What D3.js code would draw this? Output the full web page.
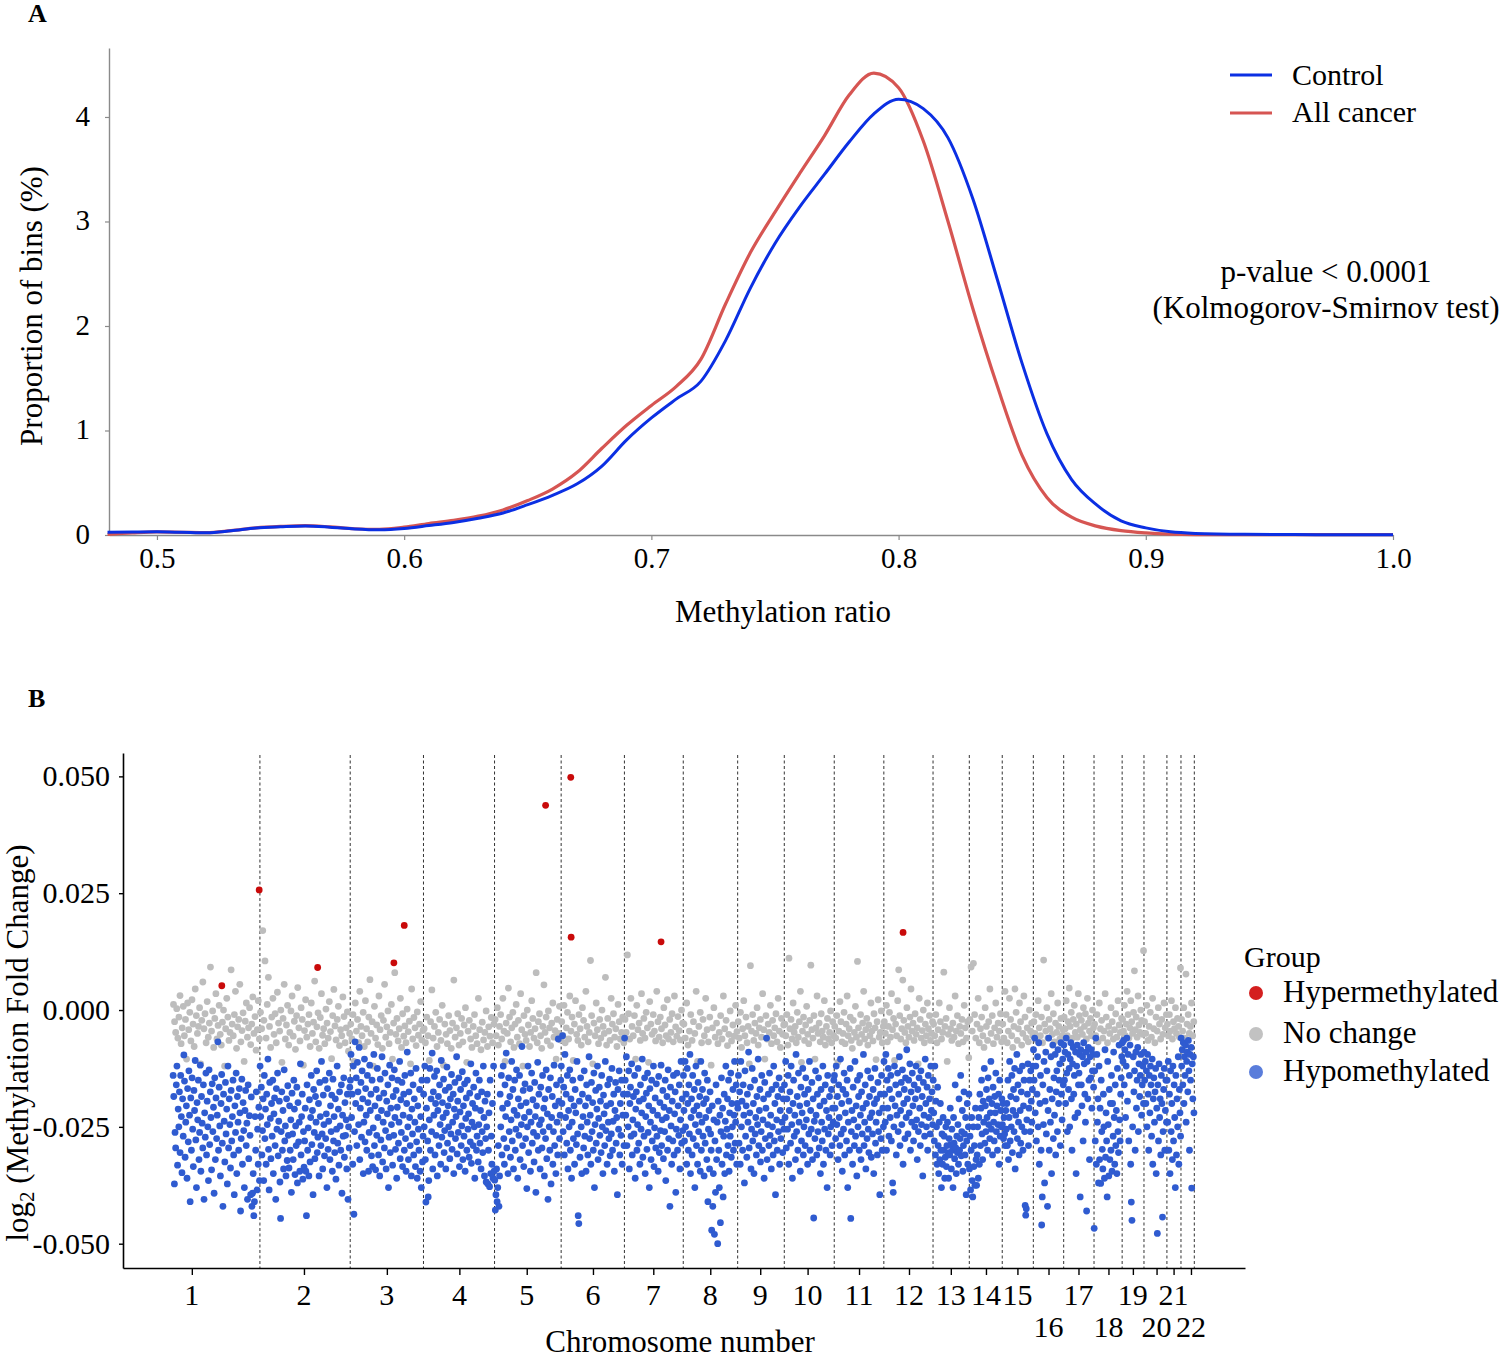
<!DOCTYPE html>
<html><head><meta charset="utf-8">
<script src="https://cdn.jsdelivr.net/npm/d3@7"></script>
<style>
body{margin:0;background:#fff}
svg{display:block}
text{font-family:"Liberation Serif","Times New Roman",serif;fill:#000}
</style>
</head><body>
<svg id="c" width="1500" height="1358"></svg>
<script>
// ---------- Panel A data: density of methylation ratio (%) ----------
const densX = [0.48,0.49,0.50,0.51,0.52,0.53,0.54,0.55,0.56,0.57,0.58,0.59,0.60,0.61,0.62,0.63,0.64,0.65,0.66,0.67,0.68,0.69,0.70,0.71,0.72,0.73,0.74,0.75,0.76,0.77,0.78,0.79,0.80,0.81,0.82,0.83,0.84,0.85,0.86,0.87,0.88,0.89,0.90,0.91,0.92,0.94,0.96,0.98,1.00];
const controlY = [0.026,0.028,0.030,0.026,0.021,0.040,0.066,0.078,0.086,0.075,0.058,0.050,0.062,0.090,0.120,0.160,0.210,0.290,0.380,0.490,0.660,0.910,1.120,1.300,1.470,1.860,2.360,2.790,3.140,3.450,3.760,4.030,4.170,4.080,3.800,3.220,2.440,1.640,0.970,0.530,0.290,0.135,0.068,0.030,0.015,0.006,0.004,0.003,0.003];
const cancerY  = [0.005,0.020,0.030,0.026,0.022,0.042,0.068,0.082,0.090,0.078,0.060,0.055,0.075,0.110,0.140,0.180,0.240,0.330,0.440,0.600,0.830,1.050,1.240,1.420,1.680,2.210,2.700,3.090,3.460,3.820,4.210,4.420,4.280,3.770,3.000,2.170,1.420,0.760,0.360,0.170,0.085,0.042,0.020,0.008,0.004,0.003,0.003,0.003,0.003];
const densSeries = ["Control","All cancer"];
const xTicksA = [0.5,0.6,0.7,0.8,0.9,1.0];
const yTicksA = [0,1,2,3,4];

// ---------- Panel B data ----------
const chromosomes = ["1","2","3","4","5","6","7","8","9","10","11","12","13","14","15","16","17","18","19","20","21","22"];
// cumulative genomic coordinate (Mb) of the first/last bin, and label position
const chrStart = [135,370,614,812,1004,1184,1355,1514,1661,1787,1922,2056,2189,2287,2376,2460,2542,2624,2700,2759,2821,2859];
const chrEnd   = [370,614,812,1004,1184,1355,1514,1661,1787,1922,2056,2189,2287,2376,2460,2542,2624,2700,2759,2821,2859,2895];
const chrTick  = [186,489,713,909,1091,1270,1433,1587,1722,1850,1989,2124,2237,2332,2417,2501,2582,2663,2729,2793,2839,2886];
const genomeEnd = 3032;
const yTicksB = [-0.05,-0.025,0,0.025,0.05];
const groups = ["Hypermethylated","No change","Hypomethylated"];

// Hypermethylated bins: position (Mb, cumulative) and log2 fold change (x1e-4)
const hyperPos = [267,368,526,732,760,1142,1210,1211,1454,2108];
const hyperVal = [52,257,91,101,181,438,498,156,146,166];

// No-change bins (x1e-4), per chromosome in positional order
const g1=[12,-25,-48,3,-60,-15,31,-72,-38,8,-55,-20,-105,15,-42,-5,-66,22,-30,-78,45,-12,-50,-35,5,-115,-22,60,-40,-8,-70,18,-58,-28,92,-45,-2,-80,-18,35,-62,-33,10,-52,-75,-26,0,-120,-40,25,-15,-65,-48,86,-30,-55,-10,40,-82,-36,-20,55,-68,-44,-6,-110,-24,15,-58,-38,5,-74,-30,28,-50,-14,-86,-42,20,-62];
const g2=[-5,-40,170,-22,105,-60,12,70,-35,-80,-15,25,-52,-8,-70,38,-28,-45,0,-112,-18,55,-62,-32,10,-75,-48,-2,30,-56,-24,-84,-12,48,-38,-66,5,-20,-118,-44,22,-58,-30,-10,-78,15,-50,-26,62,-68,-36,-6,-82,-16,35,-54,-40,-72,2,-28,-60,18,-46,-104,-12,44,-34,-64,-20,8,-76,-42,-55,28,-14,-70,-38,-4,-88,-50];
const g3=[-30,-62,-10,-110,15,-45,-20,-70,40,-35,-55,-5,-78,20,-40,-68,-15,65,-50,-25,-120,8,-60,-32,-74,30,-42,-12,-82,-22,55,-58,-36,-2,-72,-48,12,-105,-28,80,-52,-18,-66,-40,25,-80,-8,-56,-34,-70,2,-46,-24,-115,45,-62,-16,-38,-76,-4,-54,-30,18,-64,-44];
const g4=[-40,-70,-15,-55,-108,-25,43,-60,-35,-5,-78,-48,-20,-65,10,-118,-30,-52,-72,-12,-44,-82,-28,64,-58,-38,-8,-75,-50,-18,-68,-32,5,-112,-45,-22,-62,-80,-35,-10,-55,-72,25,-42,-85,-26,-64,-48,-2,-78,-36,-56,-16,-70,-30];
const g5=[-20,-55,5,-75,-35,-10,-62,25,-45,-110,-28,-50,47,-15,-68,-38,-5,-80,-30,12,-58,-22,-72,35,-42,-120,-12,-52,-65,0,-32,-78,-48,20,-18,-60,-40,80,-70,-25,-8,-55,-82,-35,54,-48,-15,-66,-2,-38,-76,-28,15,-58,-44,-105,-20,-50,8,-64];
const g6=[-25,-55,10,-70,-38,-5,-62,30,-45,-15,-108,-30,20,-52,-65,-10,-40,-75,5,-22,-58,40,-35,-68,-48,106,-12,-115,-28,-55,15,-42,-72,-20,-60,0,-35,-50,70,-75,-18,-45,-65,25,-30,-8,-58,-40,-78,12,-25,-62,-48,-15,-70];
const g7=[-20,-48,118,-8,-62,25,-35,-55,-12,-105,10,-42,-28,-65,35,-50,-18,-60,-5,-38,-112,18,-30,-52,-10,-45,-66,40,-25,-58,-15,-40,-70,5,-32,-55,22,-62,-20,-48,-8,-68,30,-36,-56,-14,-44,-64,0,-28];
const g8=[-30,-60,15,-75,-45,-10,-65,-25,-50,40,-110,-35,-5,-70,-20,-55,25,-42,-68,-15,-118,-38,5,-58,-28,-72,-48,-12,-62,30,-40,-22,-76,-52,-2,-66,-32,-56,10,-46];
const g9=[-25,-60,-5,-80,-40,20,-55,-15,-70,-35,-115,95,-45,-10,-65,-28,-50,5,-75,-38,-20,-58,35,-42,-105,-12,-62,-30,-48,10,-72,-22,-55,-38,-8,-68,25,-45,-80,-18,-52,-32];
const g10=[-30,-55,-10,-75,111,-40,-20,-62,15,-48,-35,-70,-5,-58,-25,40,-112,-45,-15,-65,-32,8,-52,-72,-22,96,-42,-60,-12,-105,-38,30,-50,-28,-68,-8,-45,-58,20,-75,-35,-18,-62,-48,-2,-70,-25,-55];
const g11=[-35,-60,-12,-112,-45,18,-25,-68,-50,-5,-72,-30,30,-55,-40,-15,-65,-82,-22,-48,8,-58,104,-38,-70,-10,-52,-28,40,-62,-42,-18,-75,-32,-55,15,-45,-66,-8,-38,-106,-25,22,-58,-48,-2,-70,-35];
const g12=[-25,-50,10,-68,-35,-5,-58,35,-42,-18,-108,-30,-55,20,86,-12,-62,-40,64,-22,-48,-70,5,-35,-58,-15,45,-45,-28,-65,-8,-52,-38,-115,25,-20,-60,-44,0,-70,-30,-55,15,-40,-12,-65,-50,-25];
const g13=[-30,-55,-10,-70,-42,15,-25,-62,-48,81,-35,-18,-110,-52,5,-40,-65,-28,-58,30,-45,-12,-72,-35,-50,-20,-68,10,-38,-60,-25,-102];
const g14=[-20,92,-45,100,-10,-60,-30,25,-70,-40,-15,-55,-80,5,-35,-65,-25,45,-50,-12,-72,-38,15,-58,-28,-45,-8,-68];
const g15=[-30,-60,40,-10,-70,-45,25,-20,-55,-80,-35,45,-5,-65,-40,15,-25,-75,-50,30,-15,-60,-38,-68,0,-45,-28,-55];
const g16=[-25,-50,-10,-65,20,-38,-55,-15,-70,107,-30,-45,5,-60,-20,-40,35,-52,-8,-68,-28,-48,15,-35,-62,-18,-55,-42];
const g17=[-15,-40,20,-55,-25,47,-35,-5,-60,-20,10,-48,-30,-58,35,-12,-42,-22,-52,5,-35,-8,-62,25,-28,-45,-18,-55,0,-38];
const g18=[-30,-55,-10,-68,15,-40,-22,-60,-45,35,-15,-70,-35,-50,5,-25,-62,-42,-8,-58,20,-32,-48,-18];
const g19=[-20,-45,10,-55,-30,40,-10,-60,-38,20,-25,-50,-5,84,-42,-15,-58,30,-32,-48,0,-22,-52,127];
const g20=[-25,-50,10,-65,-35,-5,-58,25,-40,-70,-15,-45,5,-30,-62,-20,-52,15,-38,-10];
const g21=[-30,-55,-10,-45,20,-62,-25,-40,5,-50,-18,-35,-58,90];
const g22=[-20,-45,5,-60,77,-30,-10,-50,-35,15,-55,-25];

// Hypomethylated bins (x1e-4), per chromosome in positional order
const b1=[-140,-185,-372,-262,-295,-160,-120,-332,-212,-250,-175,-305,-140,-228,-348,-190,-270,-96,-152,-315,-240,-205,-360,-168,-282,-130,-225,-410,-188,-300,-145,-255,-335,-172,-215,-108,-278,-380,-198,-235,-150,-320,-262,-118,-345,-185,-242,-295,-160,-405,-220,-272,-135,-310,-195,-250,-365,-128,-288,-175,-230,-342,-158,-260,-208,-392,-145,-320,-188,-275,-225,-68,-300,-165,-248,-355,-200,-138,-285,-420,-180,-238,-325,-155,-265,-212,-372,-120,-295,-190,-245,-338,-172,-280,-228,-150,-310,-395,-205,-262,-135,-350,-185,-240,-300,-168,-220,-430,-275,-148,-330,-198,-258,-380,-215,-172,-290,-242,-405,-160,-318,-226,-268,-395,-186,-420,-392,-350,-440,-410,-228,-300,-175,-385,-255,-330,-208,-365];
const b2=[-120,-228,-165,-310,-258,-190,-365,-140,-275,-212,-330,-180,-245,-105,-298,-385,-155,-232,-318,-200,-270,-150,-350,-222,-188,-290,-405,-168,-255,-135,-312,-238,-195,-368,-446,-260,-175,-300,-215,-340,-128,-280,-248,-355,-190,-322,-162,-268,-338,-205,-300,-235,-390,-178,-265,-320,-150,-212,-352,-248,-290,-165,-370,-198,-282,-240,-345,-115,-310,-228,-180,-362,-260,-336,-280,-210,-345,-440,-160,-300,-252,-355,-192,-325,-230,-140,-288,-215,-395,-170,-262,-318,-185,-240,-130,-305,-272,-200,-355,-155,-228,-290,-110,-265,-340,-182,-245,-312,-150,-275,-222,-380,-168,-298,-238,-135,-320,-205,-260,-182,-345,-148,-280,-228,-305,-190,-362,-255,-120,-285,-212,-332,-175,-248,-300,-160,-392,-225,-270,-145,-315,-198,-268,-235,-340,-180,-405,-250,-295,-165];
const b3=[-150,-95,-230,-180,-330,-120,-437,-260,-68,-200,-145,-290,-112,-175,-245,-80,-320,-210,-155,-272,-130,-190,-350,-240,-105,-282,-168,-225,-300,-140,-198,-345,-262,-118,-215,-180,-312,-150,-335,-252,-95,-290,-205,-342,-170,-268,-125,-230,-310,-188,-355,-148,-278,-215,-100,-325,-240,-178,-295,-135,-258,-340,-195,-222,-160,-380,-272,-118,-305,-210,-245,-145,-332,-185,-268,-128,-230,-298,-172,-360,-208,-150,-285,-240,-110,-318,-192,-262,-155,-335,-225,-180,-300,-140,-275,-345,-200,-90,-250,-320,-175,-230,-290,-135,-355,-212,-265,-160,-310,-190,-240,-335,-125,-282,-360,-205,-255,-300,-170,-345,-228,-380,-150,-325,-270];
const b4=[-180,-250,-120,-320,-411,-210,-150,-280,-400,-365,-235,-125,-300,-190,-260,-92,-340,-175,-225,-142,-310,-200,-268,-130,-355,-215,-185,-290,-160,-245,-330,-108,-272,-198,-230,-148,-305,-258,-172,-340,-220,-122,-285,-205,-250,-165,-318,-190,-265,-138,-298,-240,-180,-350,-212,-155,-275,-228,-100,-308,-195,-262,-145,-335,-218,-170,-290,-248,-132,-320,-205,-270,-158,-345,-232,-188,-300,-150,-255,-222,-315,-178,-282,-115,-328,-240,-200,-290,-165,-250,-360,-210,-135,-300,-270,-185,-325,-245,-150,-285,-215,-340,-175,-260,-305,-120,-230,-355,-195,-275,-368,-250,-180,-372,-300,-220,-378,-150,-350,-270,-330,-200,-360,-120,-345];
const b5=[-364,-428,-395,-340,-410,-380,-290,-420,-355,-180,-250,-140,-310,-210,-120,-275,-330,-160,-228,-92,-295,-200,-350,-145,-260,-185,-315,-235,-110,-280,-170,-340,-215,-150,-300,-255,-128,-225,-360,-190,-268,-140,-320,-205,-245,-78,-290,-172,-335,-230,-158,-275,-198,-382,-250,-120,-305,-218,-168,-345,-240,-135,-285,-192,-262,-325,-155,-228,-390,-205,-270,-112,-300,-180,-245,-340,-165,-235,-295,-140,-260,-210,-355,-190,-275,-128,-318,-222,-405,-170,-250,-300,-145,-372,-230,-185,-330,-260,-118,-290,-205,-350,-160,-240,-310,-62,-195,-275,-225,-150];
const b6=[-120,-200,-55,-260,-165,-310,-95,-230,-180,-285,-140,-340,-215,-250,-128,-300,-190,-360,-240,-150,-275,-205,-330,-170,-220,-288,-110,-265,-440,-457,-195,-315,-145,-250,-350,-180,-228,-295,-130,-270,-205,-345,-160,-240,-310,-188,-100,-275,-225,-330,-155,-260,-198,-300,-135,-380,-245,-172,-285,-212,-120,-320,-232,-165,-268,-195,-305,-140,-250,-350,-182,-222,-290,-110,-258,-205,-330,-160,-240,-275,-148,-312,-200,-265,-125,-300,-238,-180,-345,-215,-155,-285,-230,-395,-170,-255,-130,-310,-200,-268,-150,-330,-225,-180,-290];
const b7=[-60,-150,-225,-100,-290,-180,-250,-130,-340,-200,-165,-270,-115,-310,-235,-185,-265,-140,-360,-212,-175,-300,-245,-125,-285,-195,-330,-160,-255,-220,-105,-315,-190,-270,-145,-350,-228,-178,-298,-135,-262,-205,-380,-168,-240,-320,-150,-280,-215,-120,-335,-252,-188,-295,-158,-270,-225,-345,-142,-305,-198,-258,-118,-290,-235,-172,-318,-208,-260,-150,-365,-230,-185,-300,-128,-275,-215,-420,-165,-248,-330,-195,-280,-140,-310,-222,-175,-390,-255,-135,-300,-205,-268,-160,-340,-235,-110,-285,-190,-258];
const b8=[-140,-215,-280,-110,-250,-180,-330,-125,-200,-300,-160,-265,-95,-350,-230,-190,-310,-140,-275,-215,-170,-380,-245,-120,-290,-205,-330,-155,-260,-225,-185,-345,-110,-300,-240,-170,-270,-200,-355,-135,-285,-230,-190,-320,-150,-410,-255,-215,-340,-175,-265,-300,-471,-205,-420,-350,-235,-480,-280,-390,-160,-320,-240,-500,-195,-300,-380,-225,-455,-260,-145,-330,-210,-400,-270,-180,-350,-238,-120,-310,-255,-190,-290,-150,-345,-220,-270,-135,-315,-200,-250,-170,-300,-225,-110,-285,-240,-160,-330,-200];
const b9=[-210,-140,-285,-175,-330,-110,-250,-195,-300,-160,-225,-370,-130,-270,-205,-315,-180,-240,-90,-295,-220,-165,-340,-255,-125,-280,-200,-350,-150,-265,-230,-310,-185,-245,-105,-290,-215,-170,-325,-260,-140,-300,-235,-190,-360,-155,-275,-210,-60,-320,-245,-180,-290,-135,-268,-225,-340,-170,-250,-310,-120,-280,-200,-395,-160,-235,-300,-185,-260,-145,-330,-215,-275,-170,-240,-305,-190,-255];
const b10=[-160,-230,-110,-295,-190,-255,-140,-330,-215,-175,-285,-120,-245,-360,-200,-150,-270,-225,-320,-95,-260,-185,-300,-135,-240,-205,-345,-165,-280,-220,-125,-310,-250,-180,-290,-145,-235,-200,-330,-170,-265,-110,-300,-215,-255,-155,-320,-190,-445,-238,-275,-130,-225,-310,-180,-260,-145,-295,-205,-350,-170,-240,-280,-120,-330,-195,-255,-160,-300,-215,-380,-140,-265,-230,-185,-310,-250,-170,-290,-210,-240,-150];
const b11=[-140,-210,-275,-120,-245,-185,-320,-160,-230,-290,-105,-265,-200,-345,-170,-255,-135,-310,-220,-180,-280,-150,-380,-240,-195,-300,-125,-446,-260,-215,-330,-165,-235,-290,-110,-270,-205,-355,-150,-250,-185,-300,-140,-225,-320,-175,-265,-210,-95,-290,-240,-160,-340,-200,-275,-130,-255,-305,-185,-230,-145,-315,-220,-265,-170,-350,-200,-125,-285,-240,-190,-310,-155,-260,-220,-395,-180,-275,-140,-300,-210,-250];
const b12=[-110,-180,-240,-95,-300,-150,-210,-125,-270,-170,-230,-140,-280,-190,-370,-390,-250,-120,-205,-160,-310,-225,-135,-260,-180,-100,-290,-215,-155,-245,-128,-330,-200,-170,-275,-145,-230,-85,-190,-265,-150,-220,-115,-300,-175,-240,-135,-205,-280,-160,-250,-190,-120,-235,-320,-170,-260,-145,-210,-290,-130,-245,-185,-355,-155,-225,-270,-105,-200,-250,-165,-300,-140,-230,-190,-265,-120,-215,-175,-245];
const b13=[-150,-220,-280,-120,-310,-195,-250,-330,-165,-290,-350,-240,-320,-200,-300,-380,-265,-330,-230,-300,-270,-360,-315,-250,-335,-290,-240,-305,-360,-275,-310,-210,-288,-340,-255,-300,-380,-230,-285,-318,-160,-295,-350,-270,-305,-245,-330,-190,-300,-275,-140,-312,-260,-215,-345,-290,-175,-265,-310,-230,-395,-280,-200,-330,-250,-180];
const b14=[-340,-270,-385,-300,-230,-365,-400,-250,-335,-290,-375,-210,-320,-375,-310,-250,-360,-230,-330,-180,-290,-210,-150,-265,-320,-195,-240,-125,-285,-205,-260,-170,-230,-300,-145,-245,-190,-275,-220,-110,-255,-200,-310,-165,-240,-280,-185,-220,-135,-260,-205,-300,-245,-180,-330,-150,-270,-215,-250,-190];
const b15=[-245,-200,-275,-230,-265,-290,-215,-255,-200,-290,-150,-320,-230,-110,-280,-185,-250,-140,-305,-215,-170,-260,-125,-340,-225,-190,-95,-275,-160,-240,-310,-130,-215,-285,-175,-250,-120,-300,-205,-150,-260,-418,-439,-425,-235,-180,-115,-290,-210,-150,-260,-130,-195,-240,-170,-120];
const b16=[-85,-150,-60,-220,-120,-280,-180,-100,-250,-70,-330,-200,-140,-300,-460,-400,-160,-245,-110,-370,-195,-90,-265,-130,-420,-215,-60,-300,-170,-240,-100,-350,-190,-75,-275,-145,-225,-95,-310,-175,-130,-260,-85,-200,-150,-115,-290,-70,-180,-235,-105,-160];
const b17=[-75,-150,-90,-200,-60,-135,-260,-95,-170,-125,-250,-105,-70,-190,-300,-115,-80,-180,-140,-230,-90,-350,-120,-75,-220,-160,-135,-95,-400,-85,-160,-205,-100,-280,-70,-115,-180,-240,-90,-430,-110,-190,-80,-150,-320,-100,-145,-85,-210,-130,-95,-165];
const b18=[-467,-130,-280,-60,-330,-95,-240,-190,-370,-120,-320,-210,-371,-150,-260,-298,-340,-180,-250,-360,-85,-315,-220,-280,-400,-110,-245,-355,-170,-320,-200,-300,-140,-345,-200,-270,-90,-230,-330,-160,-290,-215,-350,-125,-260,-305,-75,-235,-280,-180,-145,-100];
const b19=[-70,-110,-65,-160,-85,-230,-120,-60,-195,-95,-280,-140,-75,-330,-411,-450,-250,-100,-175,-130,-300,-90,-210,-150,-80,-260,-115,-185,-140,-95,-225,-160,-120,-200];
const b20=[-90,-150,-110,-200,-130,-250,-95,-180,-300,-140,-220,-120,-160,-270,-105,-330,-190,-145,-240,-175,-125,-350,-210,-478,-160,-280,-115,-230,-190,-310,-140,-200,-443,-260,-170,-125,-300,-215,-150,-240];
const b21=[-150,-240,-110,-300,-180,-350,-130,-260,-200,-320,-120,-280,-160,-230,-380,-140,-310,-190,-250,-100,-330,-170,-220,-270];
const b22=[-60,-120,-85,-160,-70,-200,-100,-140,-75,-240,-110,-90,-175,-65,-130,-300,-95,-150,-80,-381,-115,-190,-100,-220];

const noChange = [g1,g2,g3,g4,g5,g6,g7,g8,g9,g10,g11,g12,g13,g14,g15,g16,g17,g18,g19,g20,g21,g22];
const hypo = [b1,b2,b3,b4,b5,b6,b7,b8,b9,b10,b11,b12,b13,b14,b15,b16,b17,b18,b19,b20,b21,b22];

// ---------- drawing ----------
const svg = d3.select("#c");
const FONT = '"Liberation Serif","Times New Roman",serif';
const colBlue = "#0b2fe3", colRed = "#d65552";

// Panel A
const xA = d3.scaleLinear().domain([0.4806, 1.0]).range([109, 1393]);
const yA = d3.scaleLinear().domain([0, 4.66]).range([535, 48]);
const gA = svg.append("g");

const axXA = gA.append("g").attr("transform", "translate(0,535)")
  .call(d3.axisBottom(xA).tickValues(xTicksA).tickFormat(d3.format(".1f")).tickSize(5).tickSizeOuter(0).tickPadding(7));
const axYA = gA.append("g").attr("transform", "translate(109,0)")
  .call(d3.axisLeft(yA).tickValues(yTicksA).tickFormat(d3.format("d")).tickSize(4).tickSizeOuter(0).tickPadding(15));
[axXA, axYA].forEach(a => {
  a.select(".domain").attr("stroke", "#8a8a8a").attr("stroke-width", 1.4);
  a.selectAll(".tick line").attr("stroke", "#8a8a8a").attr("stroke-width", 1.2);
  a.selectAll(".tick text").attr("font-family", FONT).attr("font-size", 29).attr("fill", "#000");
});
axYA.selectAll(".tick text").attr("dy", "0.28em");

const lineA = ys => d3.line().x((d, i) => xA(densX[i])).y(d => yA(d)).curve(d3.curveMonotoneX)(ys);
gA.append("path").attr("d", lineA(cancerY)).attr("fill", "none").attr("stroke", colRed).attr("stroke-width", 3.2);
gA.append("path").attr("d", lineA(controlY)).attr("fill", "none").attr("stroke", colBlue).attr("stroke-width", 3);

gA.append("text").attr("x", 28).attr("y", 22).attr("font-size", 26).attr("font-weight", "bold").text("A");
gA.append("text").attr("x", 783).attr("y", 622).attr("text-anchor", "middle").attr("font-size", 31).text("Methylation ratio");
gA.append("text").attr("transform", "translate(42,306) rotate(-90)").attr("text-anchor", "middle").attr("font-size", 31).text("Proportion of bins (%)");

// legend A
const legA = gA.append("g");
[colBlue, colRed].forEach((c, i) => {
  legA.append("line").attr("x1", 1230).attr("x2", 1272).attr("y1", 75 + i * 38).attr("y2", 75 + i * 38)
    .attr("stroke", c).attr("stroke-width", 3);
  legA.append("text").attr("x", 1292).attr("y", 85 + i * 37).attr("font-size", 30).text(densSeries[i]);
});
gA.append("text").attr("x", 1326).attr("y", 282).attr("text-anchor", "middle").attr("font-size", 31).text("p-value < 0.0001");
gA.append("text").attr("x", 1326).attr("y", 318).attr("text-anchor", "middle").attr("font-size", 31).text("(Kolmogorov-Smirnov test)");

// Panel B
const xB = d3.scaleLinear().domain([0, genomeEnd]).range([123, 1245]);
const yB = d3.scaleLinear().domain([-0.0552, 0.055]).range([1268, 753]);
const gB = svg.append("g");

gB.append("text").attr("x", 28).attr("y", 707).attr("font-size", 26).attr("font-weight", "bold").text("B");

// dashed chromosome boundaries
gB.append("g").selectAll("line").data(chrEnd).join("line")
  .attr("x1", d => xB(d)).attr("x2", d => xB(d)).attr("y1", 755).attr("y2", 1268)
  .attr("stroke", "#333").attr("stroke-width", 1).attr("stroke-dasharray", "3,2.5");

// points
const pts = [];
chromosomes.forEach((c, ci) => {
  const s = chrStart[ci], e = chrEnd[ci];
  noChange[ci].forEach((v, i, arr) => pts.push({pos: s + (i + 0.5) / arr.length * (e - s), val: v / 10000, g: 1}));
});
chromosomes.forEach((c, ci) => {
  const s = chrStart[ci], e = chrEnd[ci];
  hypo[ci].forEach((v, i, arr) => pts.push({pos: s + (i + 0.3) / arr.length * (e - s), val: v / 10000, g: 2}));
});
hyperPos.forEach((p, i) => pts.push({pos: p, val: hyperVal[i] / 10000, g: 0}));
const ptCol = ["#c90a0a", "#bdbdbd", "#2f5bd0"];
gB.append("g").selectAll("circle").data(pts).join("circle")
  .attr("cx", d => xB(d.pos)).attr("cy", d => yB(d.val)).attr("r", 3.4)
  .attr("fill", d => ptCol[d.g]);

// axes B
const axXB = gB.append("g").attr("transform", "translate(0,1268)")
  .call(d3.axisBottom(xB).tickValues(chrTick).tickFormat("").tickSize(7).tickSizeOuter(0));
const axYB = gB.append("g").attr("transform", "translate(123,0)")
  .call(d3.axisLeft(yB).tickValues(yTicksB).tickFormat(d => d.toFixed(3)).tickSize(4).tickSizeOuter(0).tickPadding(9));
[axXB, axYB].forEach(a => {
  a.select(".domain").attr("stroke", "#000").attr("stroke-width", 1.6);
  a.selectAll(".tick line").attr("stroke", "#000").attr("stroke-width", 1.4);
  a.selectAll(".tick text").attr("font-family", FONT).attr("font-size", 30).attr("fill", "#000");
});
gB.append("g").selectAll("text").data(chromosomes).join("text")
  .attr("x", (d, i) => xB(chrTick[i]))
  .attr("y", (d, i) => (i >= 15 && (i + 1) % 2 === 0) ? 1337 : 1305)
  .attr("text-anchor", "middle").attr("font-size", 30).text(d => d);

gB.append("text").attr("x", 680).attr("y", 1352).attr("text-anchor", "middle").attr("font-size", 31).text("Chromosome number");
const yt = gB.append("text").attr("transform", "translate(28,1043) rotate(-90)").attr("text-anchor", "middle").attr("font-size", 31);
yt.append("tspan").text("log");
yt.append("tspan").attr("font-size", 21).attr("dy", 6).text("2");
yt.append("tspan").attr("dy", -6).text(" (Methylation Fold Change)");

// legend B
const legB = gB.append("g");
legB.append("text").attr("x", 1244).attr("y", 967).attr("font-size", 30).text("Group");
const legCol = ["#d41f1f", "#c2c2c2", "#5a7ddb"];
groups.forEach((g, i) => {
  const cy = [993, 1034, 1072][i];
  legB.append("circle").attr("cx", 1256).attr("cy", cy).attr("r", 7).attr("fill", legCol[i]);
  legB.append("text").attr("x", 1283).attr("y", cy + 9).attr("font-size", 31).text(g);
});
</script>
</body></html>
